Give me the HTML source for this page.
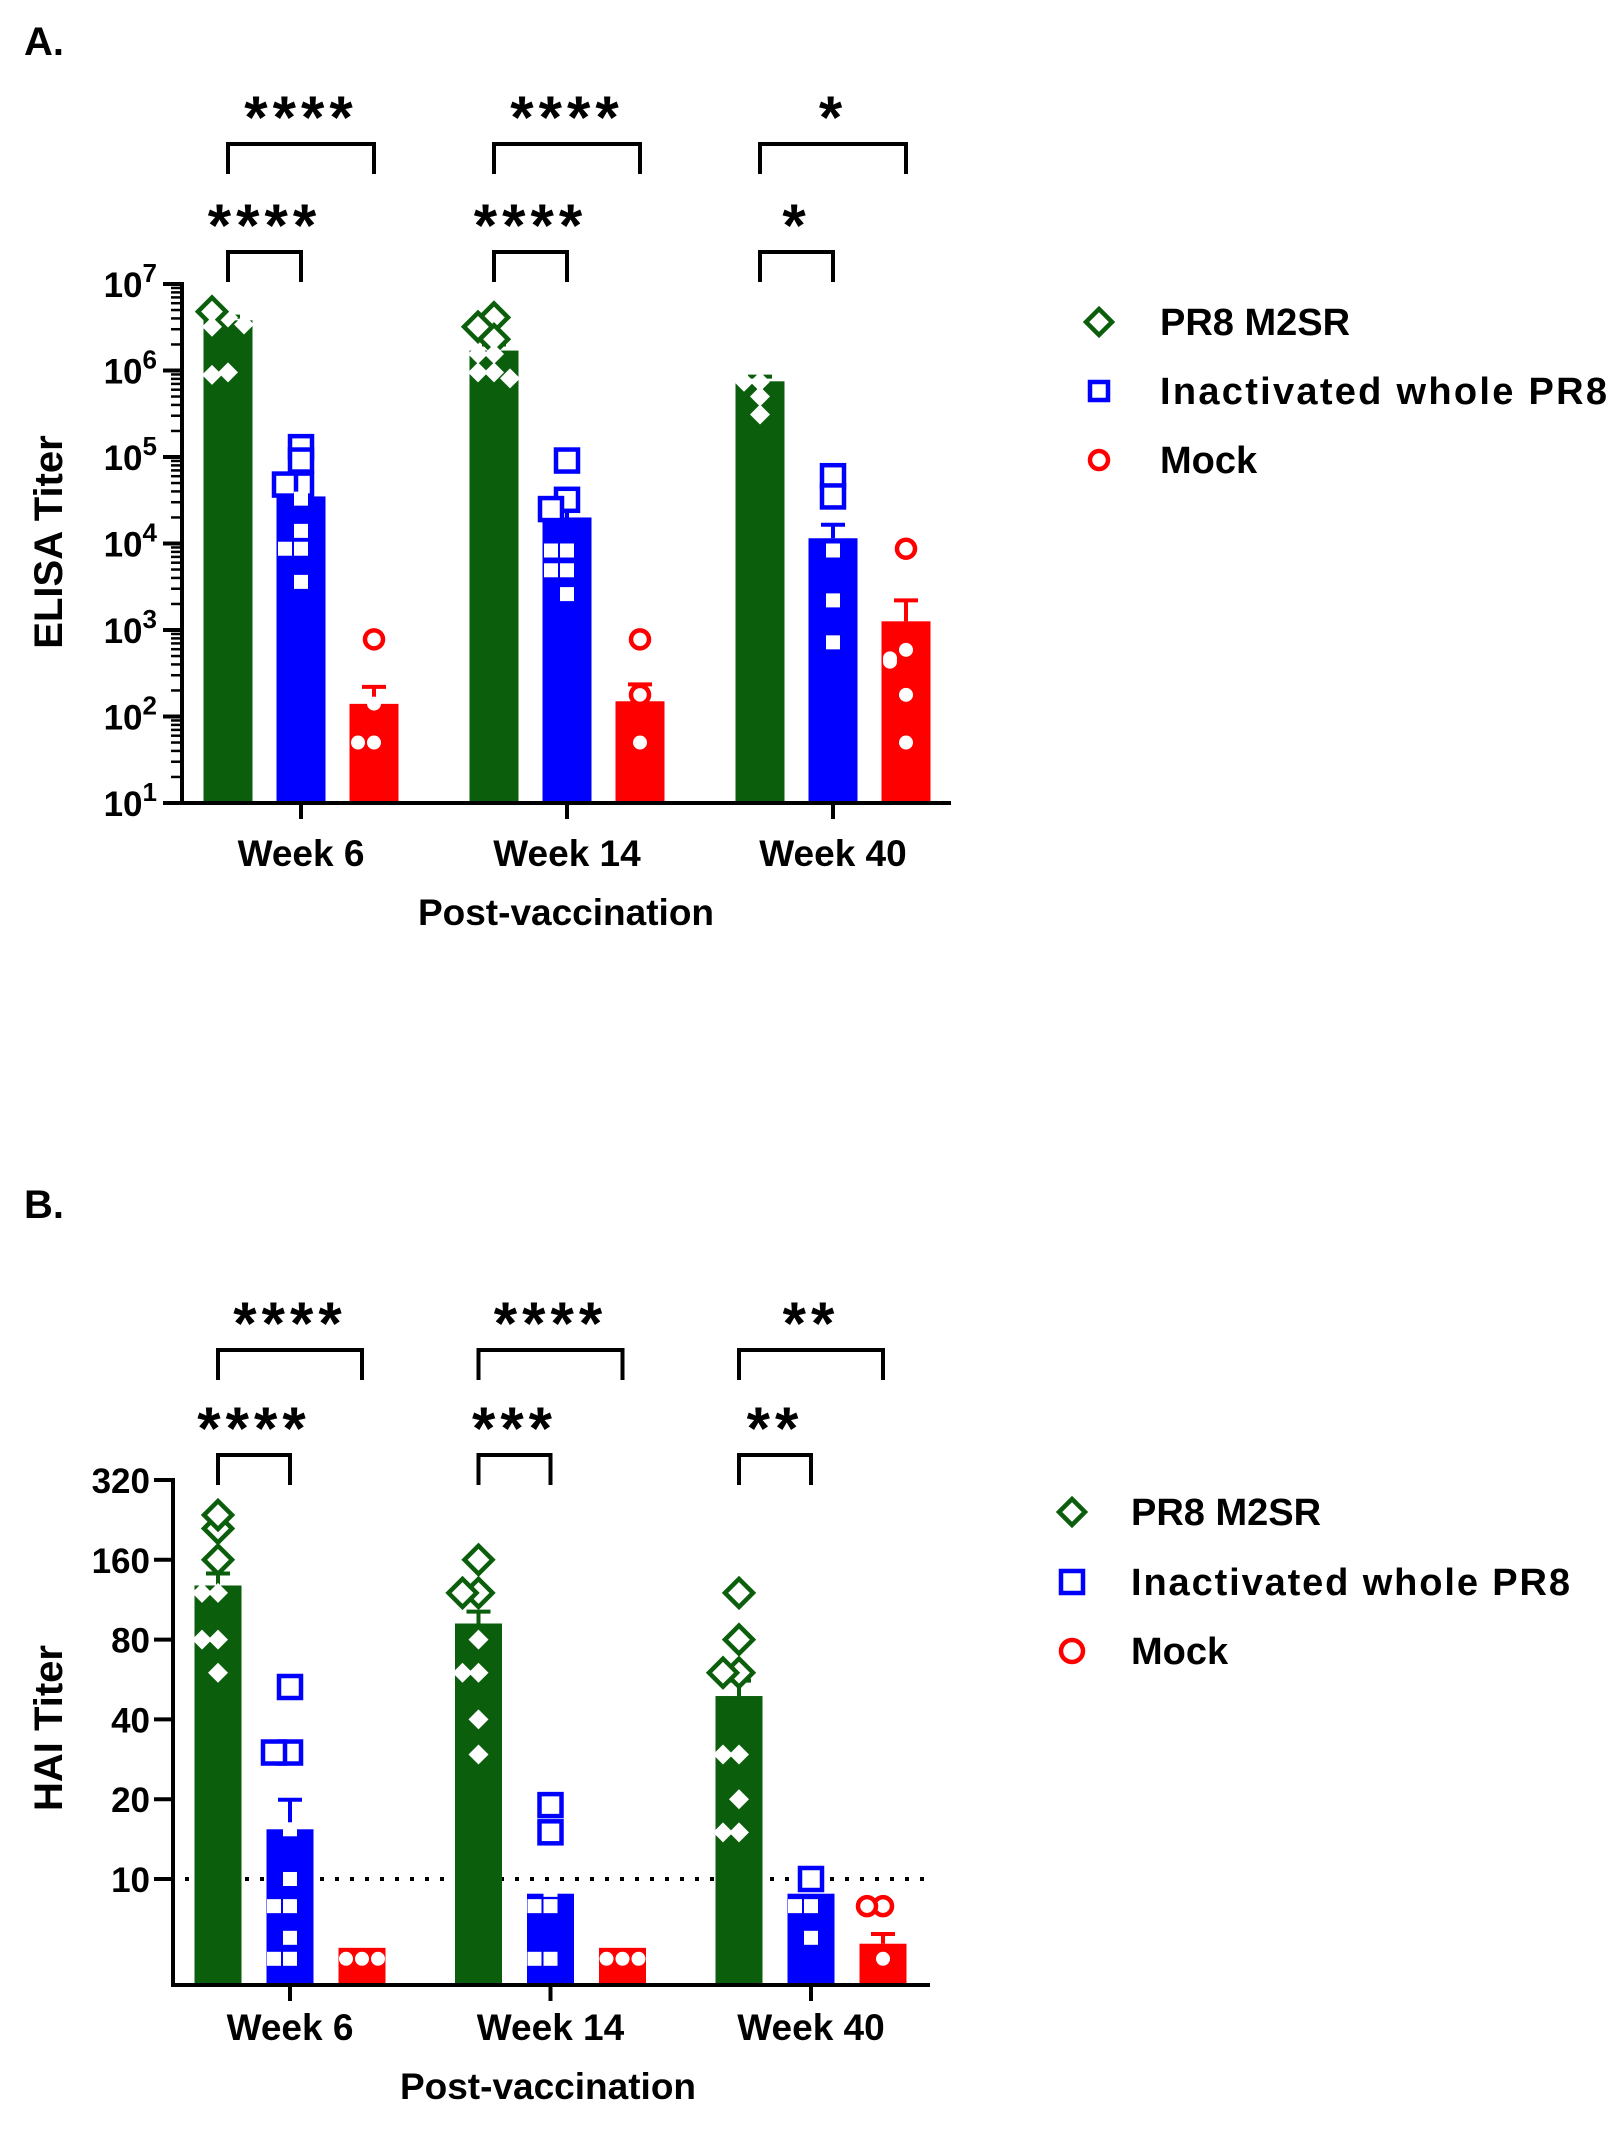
<!DOCTYPE html>
<html><head><meta charset="utf-8"><style>
html,body{margin:0;padding:0;background:#fff}
svg{display:block}
text{font-family:"Liberation Sans",Arial,sans-serif;font-weight:bold;fill:#000}
</style></head><body>
<svg id="fig" width="1612" height="2134" viewBox="0 0 1612 2134" xmlns="http://www.w3.org/2000/svg">
<text x="24" y="55" font-size="40">A.</text>
<text x="24" y="1218" font-size="40">B.</text>
<g id="pa"></g>
<g id="pb"></g>
</svg>
<script>
// ---- data ----
const weeks = ["Week 6","Week 14","Week 40"];
const seriesNames = ["PR8 M2SR","Inactivated whole PR8","Mock"];
// Panel A (ELISA)
const elisaMeans = [[3.8e6,3.5e4,140],[1.7e6,2.0e4,150],[7.5e5,1.15e4,1260]];
const elisaErr = [[4.2e6,6.0e4,220],[2.0e6,2.9e4,235],[8.5e5,1.65e4,2200]];
const elisaPts = [
 [[4.1e6,4.8e6,3.2e6,3.4e6,9.5e5,8.9e5],[1.3e5,9.1e4,4.8e4,4.8e4,3.3e4,1.4e4,8.7e3,8.7e3,3.6e3],[780,141,50,50]],
 [[4.1e6,3.2e6,2.3e6,1.55e6,1.55e6,9.5e5,9.5e5,8.1e5],[9.1e4,3.2e4,2.5e4,8.3e3,8.3e3,4.9e3,4.9e3,2.6e3],[780,178,50]],
 [[7.4e5,7.4e5,5.0e5,3.1e5],[6.0e4,3.5e4,8.3e3,2.2e3,720],[8.7e3,590,470,178,50,430]]
];
const elisaTicks = [1,2,3,4,5,6,7];
const elisaSig = [["****","****"],["****","****"],["*","*"]];
// Panel B (HAI)
const haiMeans = [[128,15.4,5.5],[92,8.8,5.5],[49,8.8,5.7]];
const haiErr = [[142,19.9,5.5],[102,8.8,5.5],[56,8.8,6.2]];
const haiPts = [
 [[210,236,160,120,120,80,80,60],[53,30,30,15.4,10,7.9,7.9,6,5,5],[5,5,5,5,5]],
 [[160,120,120,80,60,60,40,29.5],[19,15,9.1,7.9,7.9,5,5],[5,5,5,5]],
 [[120,80,60,60,29.5,29.5,20,15,15],[10,7.9,7.9,6],[7.9,7.9,5]]
];
const haiTicks = [10,20,40,80,160,320];
const haiSig = [["****","****"],["****","***"],["**","**"]];
const colors = ["#0b5e0b","#0000ff","#ff0000"];

const NS="http://www.w3.org/2000/svg";
function mk(parent,tag,attrs,txt){const e=document.createElementNS(NS,tag);for(const k in attrs)e.setAttribute(k,attrs[k]);if(txt!==undefined)e.textContent=txt;parent.appendChild(e);return e;}

function marker(g,s,x,y,open){
  const col=colors[s];let e;
  if(open){
    if(s===0){const r=14;e=mk(g,"polygon",{points:`${x},${y-r} ${x+r},${y} ${x},${y+r} ${x-r},${y}`,fill:"#fff",stroke:col,"stroke-width":4.5});}
    else if(s===1){const h=11;e=mk(g,"rect",{x:x-h,y:y-h,width:2*h,height:2*h,fill:"#fff",stroke:col,"stroke-width":4.5});}
    else {e=mk(g,"circle",{cx:x,cy:y,r:9,fill:"#fff",stroke:col,"stroke-width":4.5});}
  } else {
    if(s===0){const r=10;e=mk(g,"polygon",{points:`${x},${y-r} ${x+r},${y} ${x},${y+r} ${x-r},${y}`,fill:"#fff"});}
    else if(s===1){const h=7;e=mk(g,"rect",{x:x-h,y:y-h,width:2*h,height:2*h,fill:"#fff"});}
    else {e=mk(g,"circle",{cx:x,cy:y,r:7,fill:"#fff"});}
  }
  
  
}

function drawPanel(g,cfg){
  const {y,means,err,pts,sig,cx,off,bw,x0,x1,yBot}=cfg;
  for(let w=0;w<3;w++)for(let s=0;s<3;s++){
    const xc=cx(w)+(s-1)*off, top=y(means[w][s]);
    const b=mk(g,"rect",{x:xc-bw/2,y:top,width:bw,height:yBot-top,fill:colors[s]});
    
    
    const et=y(err[w][s]);
    if(top-et>2){
      const eg=mk(g,"path",{d:`M${xc},${top} V${et} M${xc-12},${et} H${xc+12}`,stroke:colors[s],"stroke-width":4,fill:"none"});
      
      
    }
  }
  for(let w=0;w<3;w++)for(let s=0;s<3;s++){
    const xc=cx(w)+(s-1)*off, top=y(means[w][s]);
    const placed=[];
    pts[w][s].forEach(v=>{
      const py=y(v);
      const n=placed.filter(p=>Math.abs(p-py)<10).length;
      placed.push(py);
      const dx=n===0?0:(n%2?-1:1)*Math.ceil(n/2)*16;
      marker(g,s,xc+dx,py,py<top-6);
    });
  }
  const ax=mk(g,"path",{d:`M${x0},${cfg.yTop-2} V${yBot} H${x1}`,stroke:"#000","stroke-width":4,fill:"none"});
  
  
  for(let w=0;w<3;w++){
    mk(g,"line",{x1:cx(w),x2:cx(w),y1:yBot,y2:yBot+16,stroke:"#000","stroke-width":4});
    const t=mk(g,"text",{x:cx(w),y:cfg.weekY,"font-size":37,"text-anchor":"middle"},weeks[w]);
    
    
    const xg=cx(w)-off,xb=cx(w),xr=cx(w)+off;
    const b1=mk(g,"path",{d:`M${xg},${cfg.s2y+30} V${cfg.s2y} H${xr} V${cfg.s2y+30}`,stroke:"#000","stroke-width":4,fill:"none"});
    
    
    const b2=mk(g,"path",{d:`M${xg},${cfg.s1y+30} V${cfg.s1y} H${xb} V${cfg.s1y+30}`,stroke:"#000","stroke-width":4,fill:"none"});
    
    
    const t1=mk(g,"text",{x:(xg+xr)/2,y:cfg.s2y-6,"font-size":60,"text-anchor":"middle","letter-spacing":5},sig[w][0]);
    
    
    const t2=mk(g,"text",{x:(xg+xb)/2,y:cfg.s1y-6,"font-size":60,"text-anchor":"middle","letter-spacing":5},sig[w][1]);
    
    
  }
  const xt=mk(g,"text",{x:cfg.xTitleX,y:cfg.xTitleY,"font-size":37,"text-anchor":"middle"},"Post-vaccination");
  
  
  const yt=mk(g,"text",{x:0,y:0,"font-size":40,"text-anchor":"middle",transform:`translate(${cfg.yTitleX},${cfg.yTitleY}) rotate(-90)`},cfg.yTitle);
  
  
  seriesNames.forEach((nm,i)=>{
    const ly=cfg.legY[i];
    const lg=mk(g,"g",{});
    
    
    if(i===0)mk(lg,"polygon",{points:`${cfg.legX},${ly-13} ${cfg.legX+13},${ly} ${cfg.legX},${ly+13} ${cfg.legX-13},${ly}`,fill:"#fff",stroke:colors[0],"stroke-width":4.5});
    else if(i===1)mk(lg,"rect",{x:cfg.legX-cfg.sq,y:ly-cfg.sq,width:2*cfg.sq,height:2*cfg.sq,fill:"#fff",stroke:colors[1],"stroke-width":4.5});
    else mk(lg,"circle",{cx:cfg.legX,cy:ly,r:cfg.sq,fill:"#fff",stroke:colors[2],"stroke-width":4.5});
    const tt=mk(lg,"text",{x:cfg.legTX,y:ly+13,"font-size":38},nm);
    if(i===1)tt.setAttribute("textLength",cfg.legW);
  });
}

// Panel A
const gA=document.getElementById("pa");
const yA=v=>803-(Math.log10(v)-1)*86.5;
elisaTicks.forEach(p=>{
  const yy=yA(Math.pow(10,p));
  mk(gA,"line",{x1:163,x2:182,y1:yy,y2:yy,stroke:"#000","stroke-width":4});
  const t=mk(gA,"text",{x:157,y:yy+13,"font-size":35,"text-anchor":"end"});
  
  
  mk(t,"tspan",{},"10");mk(t,"tspan",{dy:-15,"font-size":26},String(p));
  if(p<7)for(let m=2;m<10;m++){const my=yA(m*Math.pow(10,p));mk(gA,"line",{x1:171,x2:182,y1:my,y2:my,stroke:"#000","stroke-width":2.5});}
});
drawPanel(gA,{y:yA,means:elisaMeans,err:elisaErr,pts:elisaPts,sig:elisaSig,cx:w=>301+w*266,off:73,bw:49,x0:182,x1:951,yBot:803,yTop:yA(1e7),weekY:866,s2y:144,s1y:252,xTitleX:566,xTitleY:925,yTitle:"ELISA Titer",yTitleX:62,yTitleY:542,legX:1099,legTX:1160,legY:[322,391,460],legW:447,sq:9});

// Panel B
const gB=document.getElementById("pb");
const yB=v=>1879-Math.log2(v/10)*79.8;
haiTicks.forEach(v=>{
  const yy=yB(v);
  mk(gB,"line",{x1:154,x2:173,y1:yy,y2:yy,stroke:"#000","stroke-width":4});
  const t=mk(gB,"text",{x:150,y:yy+13,"font-size":35,"text-anchor":"end"},String(v));
  
  
});
const dl=mk(gB,"line",{x1:185,x2:930,y1:yB(10),y2:yB(10),stroke:"#000","stroke-width":4,"stroke-dasharray":"4 11"});


drawPanel(gB,{y:yB,means:haiMeans,err:haiErr,pts:haiPts,sig:haiSig,cx:w=>290+w*260.5,off:72,bw:47,x0:173,x1:930,yBot:1985,yTop:yB(320),weekY:2040,s2y:1350,s1y:1455,xTitleX:548,xTitleY:2099,yTitle:"HAI Titer",yTitleX:62,yTitleY:1728,legX:1072,legTX:1131,legY:[1512,1582,1651],legW:439,sq:11});
</script>
</body></html>
